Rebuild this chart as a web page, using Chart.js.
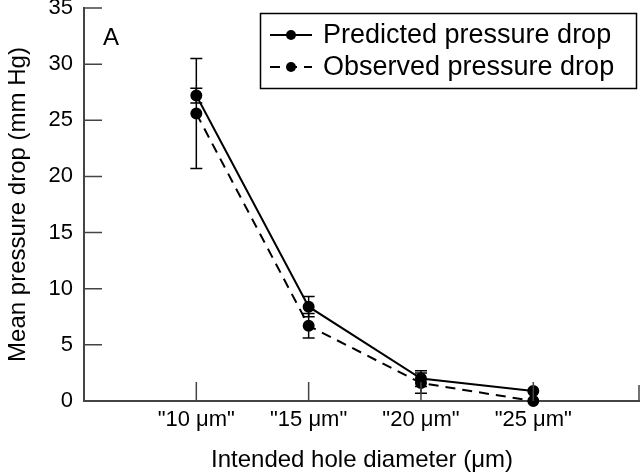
<!DOCTYPE html>
<html>
<head>
<meta charset="utf-8">
<script src="https://cdn.jsdelivr.net/npm/chart.js@4.4.1/dist/chart.umd.min.js"></script>
<style>
  html, body { margin: 0; padding: 0; background: #fff; }
  #wrap { width: 640px; height: 475px; }
</style>
</head>
<body>
<div id="wrap"><canvas id="chart"></canvas></div>
<script>
// data
const categories = ['"10 μm"', '"15 μm"', '"20 μm"', '"25 μm"'];
const predicted = [27.2, 8.4, 2.0, 0.9];
const predictedErr = [0.65, 0.9, 0.7, 0];
const observed = [25.6, 6.7, 1.6, 0.0];
const observedErr = [4.9, 1.1, 0.9, 0];
const yTicks = [0, 5, 10, 15, 20, 25, 30, 35];

const FONT = '"Liberation Sans", Arial, Helvetica, sans-serif';
const AXIS = '#444';

const toPoints = (vals) => vals.map((v, i) => ({ x: i + 1, y: v }));

// error bars, inward tick marks, panel letter and boxed legend
const extras = {
  id: 'extras',
  afterDatasetsDraw(chart) {
    const { ctx, scales: { x, y } } = chart;
    ctx.save();
    ctx.strokeStyle = '#000';
    ctx.lineWidth = 1.5;
    const bars = [[predicted, predictedErr], [observed, observedErr]];
    bars.forEach(([vals, errs]) => {
      vals.forEach((v, i) => {
        if (!errs[i]) return;
        const px = x.getPixelForValue(i + 1);
        const top = y.getPixelForValue(v + errs[i]);
        const bot = y.getPixelForValue(v - errs[i]);
        ctx.beginPath();
        ctx.moveTo(px, top); ctx.lineTo(px, bot);
        ctx.moveTo(px - 6, top); ctx.lineTo(px + 6, top);
        ctx.moveTo(px - 6, bot); ctx.lineTo(px + 6, bot);
        ctx.stroke();
      });
    });
    ctx.restore();
  },
  afterDraw(chart) {
    const { ctx, chartArea: a, scales: { x, y } } = chart;
    ctx.save();
    ctx.strokeStyle = AXIS;
    ctx.lineWidth = 1.5;
    ctx.beginPath();
    yTicks.forEach(t => {
      const py = y.getPixelForValue(t);
      ctx.moveTo(a.left, py); ctx.lineTo(a.left + 18, py);
    });
    [1, 2, 3, 4].forEach(t => {
      const px = x.getPixelForValue(t);
      ctx.moveTo(px, a.bottom); ctx.lineTo(px, a.bottom - 19);
    });
    ctx.moveTo(a.right - 1, a.bottom); ctx.lineTo(a.right - 1, a.bottom - 16);
    ctx.stroke();

    ctx.fillStyle = '#000';
    ctx.font = '24px ' + FONT;
    ctx.textBaseline = 'alphabetic';
    ctx.fillText('A', 103, 45);

    // legend
    ctx.strokeStyle = '#000';
    ctx.lineWidth = 1.5;
    ctx.strokeRect(260.5, 13.5, 376, 75);
    const rows = [
      { label: 'Predicted pressure drop', y: 35, dash: [] },
      { label: 'Observed pressure drop', y: 67, dash: [10, 7] }
    ];
    ctx.font = '27px ' + FONT;
    rows.forEach(r => {
      ctx.setLineDash(r.dash);
      ctx.lineWidth = 2;
      ctx.beginPath();
      ctx.moveTo(270, r.y); ctx.lineTo(312, r.y);
      ctx.stroke();
      ctx.setLineDash([]);
      ctx.beginPath();
      ctx.arc(291, r.y, 5, 0, Math.PI * 2);
      ctx.fill();
      ctx.textBaseline = 'middle';
      ctx.fillText(r.label, 323, r.y + 1);
    });
    ctx.restore();
  }
};

new Chart(document.getElementById('chart'), {
  type: 'line',
  data: {
    datasets: [
      {
        label: 'Predicted pressure drop',
        data: toPoints(predicted),
        borderColor: '#000',
        backgroundColor: '#000',
        borderWidth: 2,
        pointRadius: 5,
        pointHoverRadius: 5,
        tension: 0
      },
      {
        label: 'Observed pressure drop',
        data: toPoints(observed),
        borderColor: '#000',
        backgroundColor: '#000',
        borderWidth: 2,
        borderDash: [10, 7],
        pointRadius: 5,
        pointHoverRadius: 5,
        tension: 0
      }
    ]
  },
  options: {
    responsive: true,
    maintainAspectRatio: false,
    animation: false,
    clip: false,
    layout: { autoPadding: false, padding: { top: 8, right: 0, left: 0, bottom: 0 } },
    plugins: {
      legend: { display: false },
      tooltip: { enabled: false }
    },
    scales: {
      x: {
        type: 'linear',
        min: 0,
        max: 4.95,
        grid: { display: false, drawTicks: false },
        border: { display: true, color: AXIS, width: 2 },
        afterFit: (s) => { s.height = 74; s.paddingLeft = 0; s.paddingRight = 0; },
        afterBuildTicks: (s) => { s.ticks = [1, 2, 3, 4].map(v => ({ value: v })); },
        ticks: {
          color: '#000',
          padding: 6,
          maxRotation: 0,
          autoSkip: false,
          font: { family: FONT, size: 22 },
          callback: (v) => categories[v - 1] || ''
        },
        title: {
          display: true,
          text: 'Intended hole diameter (μm)',
          color: '#000',
          font: { family: FONT, size: 24 },
          padding: { top: 0, bottom: 0 }
        }
      },
      y: {
        min: 0,
        max: 35,
        grid: { display: false, drawTicks: false },
        border: { display: true, color: AXIS, width: 2 },
        afterFit: (s) => { s.width = 84; s.paddingTop = 0; s.paddingBottom = 0; },
        afterBuildTicks: (s) => { s.ticks = yTicks.map(v => ({ value: v })); },
        ticks: {
          color: '#000',
          padding: 11,
          font: { family: FONT, size: 22 }
        },
        title: {
          display: true,
          text: 'Mean pressure drop (mm Hg)',
          color: '#000',
          font: { family: FONT, size: 24 },
          padding: { top: 4, bottom: 0 }
        }
      }
    }
  },
  plugins: [extras]
});
</script>
</body>
</html>
